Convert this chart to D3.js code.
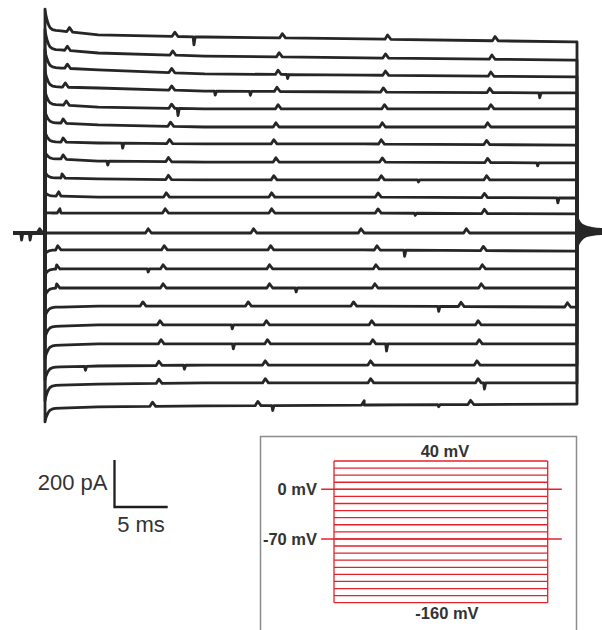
<!DOCTYPE html>
<html>
<head>
<meta charset="utf-8">
<script src="https://cdn.jsdelivr.net/npm/d3@7"></script>
<style>
  html, body { margin: 0; padding: 0; background: #fff; }
  svg { display: block; font-family: "Liberation Sans", Arial, sans-serif; }
</style>
</head>
<body>
<div id="chart"></div>
<script>
// voltage steps (mV), holding at -70
var voltages = [40, 30, 20, 10, 0, -10, -20, -30, -40, -50, -60, -70, -80, -90, -100, -110, -120, -130, -140, -150, -160];

// capacitive peak at step onset (pA, relative to holding current)
var peakCurrent = [953, 866, 780, 693, 607, 520, 433, 347, 260, 173, 87, 0, -89, -179, -268, -357, -447, -536, -625, -715, -804];

// sustained current read at these times (ms)
var levelTimes = [1.5, 5, 15, 30, 49.7];
var levels = [
  [860, 843, 834, 826, 813],
  [779, 766, 753, 745, 736],
  [702, 694, 677, 672, 664],
  [621, 617, 604, 600, 596],
  [545, 536, 528, 528, 528],
  [468, 460, 451, 451, 451],
  [387, 383, 379, 379, 374],
  [315, 306, 302, 302, 298],
  [234, 230, 226, 226, 226],
  [157, 153, 153, 153, 149],
  [85, 85, 85, 85, 81],
  [0, 0, 0, 0, 0],
  [-72, -72, -72, -72, -77],
  [-153, -153, -153, -153, -153],
  [-234, -234, -234, -234, -234],
  [-315, -311, -311, -311, -315],
  [-396, -391, -391, -391, -391],
  [-477, -472, -472, -472, -472],
  [-570, -566, -562, -562, -562],
  [-647, -643, -638, -638, -638],
  [-745, -740, -736, -732, -728]
];

// decay of the onset transient (fraction of peak excess), read from the top sweep
var onsetT = [0, 0.08, 0.19, 0.32, 0.47, 0.7, 1.0, 1.5];
var onsetF = [1, 0.72, 0.5, 0.3, 0.15, 0.06, 0.02, 0];

// small upward events (ms) on each sweep
var bumps = [
  [2.3, 12.2, 22.3, 32.2, 42.3],
  [2.1, 12.0, 22.0, 32.0, 42.0],
  [2.1, 11.9, 21.9, 32.0, 41.9],
  [1.9, 11.9, 21.8, 31.8, 41.8],
  [2.0, 11.9, 21.9, 31.9, 41.9],
  [1.7, 11.8, 21.7, 31.7, 41.6],
  [1.7, 11.7, 21.5, 31.6, 41.5],
  [1.7, 11.6, 21.7, 31.7, 41.6],
  [1.6, 11.6, 21.5, 31.6, 41.5],
  [1.3, 11.4, 21.3, 31.3, 41.3],
  [1.4, 11.3, 21.3, 31.3, 41.3],
  [-0.5, 9.7, 19.6, 29.7, 39.6],
  [1.2, 11.2, 21.2, 31.2, 41.2],
  [1.1, 11.1, 21.1, 31.1, 41.1],
  [1.1, 11.1, 21.1, 31.0, 41.0],
  [9.2, 19.1, 29.0, 39.1, 49.1],
  [10.8, 20.8, 30.7, 40.7],
  [10.9, 20.9, 30.8, 40.8],
  [10.7, 20.7, 30.6, 40.6],
  [10.7, 20.7, 30.6, 40.7],
  [10.1, 20.0, 30.0, 40.0]
];

// sharp downward events [ms, depth pA]
var dips = [
  [[14.0, 34]],
  [],
  [[22.8, 17]],
  [[16.0, 17], [19.3, 17], [46.5, 21]],
  [[12.5, 30]],
  [],
  [[7.3, 21]],
  [[5.9, 17], [46.3, 13]],
  [[35.1, 9]],
  [[48.2, 21]],
  [[34.8, 9]],
  [[-2.2, 30], [-1.4, 30]],
  [[33.8, 26]],
  [[9.7, 13]],
  [[23.6, 17]],
  [[37.0, 21]],
  [[17.6, 17]],
  [[17.7, 21], [32.1, 30]],
  [[3.8, 17], [13.1, 17]],
  [[41.3, 26]],
  [[21.4, 21], [37.0, 9]]
];

// ringing after the step back to -70 mV: envelope [ms, pA]
var tailTimes = [50, 50.3, 50.75, 51.4, 52.3, 52.8];
var tailUpper = [85, 51, 34, 26, 21, 20];
var tailLower = [-72, -43, -21, -13, -9, -9];

var bumpSize = 18;
var preStart = -2.95, postEnd = 52.8, stepEnd = 50;

var width = 602, height = 630;

var svg = d3.select("#chart").append("svg")
    .attr("width", width)
    .attr("height", height);

var x = d3.scaleLinear().domain([0, 50]).range([45, 577]);
var y = d3.scaleLinear().domain([0, 200]).range([233, 186]);

var line = d3.line()
    .x(function(d) { return x(d[0]); })
    .y(function(d) { return y(d[1]); });

var onset = d3.scaleLinear().domain(onsetT).range(onsetF).clamp(true);

function sweep(i) {
    var base = d3.scaleLinear().domain(levelTimes).range(levels[i]).clamp(true);
    var excess = peakCurrent[i] - levels[i][0];
    var at = function(t) {
        if (t < 0) return 0;
        return base(t) + excess * onset(t);
    };

    var pre = [[preStart, 0]];
    var main = [];
    var events = [];

    bumps[i].forEach(function(t) {
        events.push([t - 0.25, 0], [t, bumpSize], [t + 0.3, 0]);
    });
    dips[i].forEach(function(d) {
        events.push([d[0] - 0.08, 0], [d[0], -d[1]], [d[0] + 0.12, 0]);
    });

    events.forEach(function(e) {
        if (e[0] < 0) pre.push([e[0], e[1]]);
        else main.push([e[0], at(e[0]) + e[1]]);
    });
    onsetT.forEach(function(t) { if (t > 0) main.push([t, at(t)]); });
    levelTimes.forEach(function(t) { main.push([t, at(t)]); });

    pre.sort(function(a, b) { return a[0] - b[0]; });
    main.sort(function(a, b) { return a[0] - b[0]; });

    return pre.concat([[0, 0], [0, peakCurrent[i]]], main,
        [[stepEnd, levels[i][4]], [stepEnd, 0], [postEnd, 0]]);
}

var traces = svg.append("g").attr("class", "traces");

traces.selectAll("path")
    .data(voltages)
    .enter().append("path")
    .attr("d", function(v, i) { return line(sweep(i)); })
    .attr("fill", "none")
    .attr("stroke", "#262626")
    .attr("stroke-width", 2.8)
    .attr("stroke-linejoin", "round");

var tail = d3.area()
    .x(function(d, i) { return x(tailTimes[i]); })
    .y0(function(d, i) { return y(tailLower[i]); })
    .y1(function(d, i) { return y(tailUpper[i]); })
    .curve(d3.curveMonotoneX);

traces.append("path")
    .attr("d", tail(tailTimes))
    .attr("fill", "#262626");

// scale bar: 200 pA, 5 ms
var sb = svg.append("g").attr("transform", "translate(114.5,507)");
sb.append("path")
    .attr("d", "M0," + (y(200) - y(0)) + "V0H" + (x(5) - x(0)))
    .attr("fill", "none")
    .attr("stroke", "#1e1e1e")
    .attr("stroke-width", 2.3);
sb.append("text")
    .attr("x", -7).attr("y", -17)
    .attr("text-anchor", "end")
    .attr("font-size", 22)
    .attr("fill", "#333")
    .text("200 pA");
sb.append("text")
    .attr("x", 26.5).attr("y", 24.5)
    .attr("text-anchor", "middle")
    .attr("font-size", 22)
    .attr("fill", "#333")
    .text("5 ms");

// inset: voltage protocol
var inset = svg.append("g");
inset.append("rect")
    .attr("x", 260.5).attr("y", 436.5)
    .attr("width", 316).attr("height", 220)
    .attr("fill", "none")
    .attr("stroke", "#8c8c8c")
    .attr("stroke-width", 1.5);

var px = d3.scaleLinear().domain([0, 50]).range([334, 547.7]);
var pv = d3.scaleLinear().domain([-160, 40]).range([602.7, 461]);
var red = "#e5222b";

inset.selectAll(".step")
    .data(voltages)
    .enter().append("line")
    .attr("class", "step")
    .attr("x1", px(0)).attr("x2", px(50))
    .attr("y1", function(v) { return pv(v); })
    .attr("y2", function(v) { return pv(v); })
    .attr("stroke", red)
    .attr("stroke-width", 1.3);

[0, 50].forEach(function(t) {
    inset.append("line")
        .attr("x1", px(t)).attr("x2", px(t))
        .attr("y1", pv(40)).attr("y2", pv(-160))
        .attr("stroke", red)
        .attr("stroke-width", 1.3);
});

[0, -70].forEach(function(v) {
    inset.append("line")
        .attr("x1", px(preStart - 0.05)).attr("x2", px(53.3))
        .attr("y1", pv(v)).attr("y2", pv(v))
        .attr("stroke", red)
        .attr("stroke-width", 1.5);
});

var labels = [
    {text: "40 mV", x: 445, y: 457, anchor: "middle"},
    {text: "0 mV", x: 317, y: 495, anchor: "end"},
    {text: "-70 mV", x: 317, y: 545, anchor: "end"},
    {text: "-160 mV", x: 447, y: 619, anchor: "middle"}
];
inset.selectAll(".lab")
    .data(labels)
    .enter().append("text")
    .attr("class", "lab")
    .attr("x", function(d) { return d.x; })
    .attr("y", function(d) { return d.y; })
    .attr("text-anchor", function(d) { return d.anchor; })
    .attr("font-size", 16.5)
    .attr("font-weight", "bold")
    .attr("fill", "#333")
    .text(function(d) { return d.text; });
</script>
</body>
</html>
